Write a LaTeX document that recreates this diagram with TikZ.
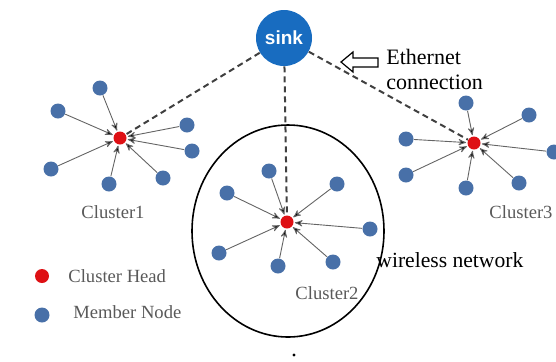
\documentclass[tikz,border=0pt]{standalone}
\usepackage{fontspec}
\setmainfont{Liberation Serif}
\newfontfamily\sinkfont{Liberation Sans}
\usetikzlibrary{arrows,positioning}
\definecolor{memberblue}{RGB}{72,112,168}
\definecolor{headred}{RGB}{222,16,20}
\definecolor{sinkblue}{RGB}{24,108,192}
\definecolor{linkgray}{RGB}{100,100,100}

\begin{document}
\begin{tikzpicture}[x=0.5pt,y=-0.5pt,>=stealth',
            member/.style={circle,fill=memberblue,inner sep=0pt,minimum size=7.5pt},
            head/.style={circle,fill=headred,inner sep=0pt,minimum size=6.5pt},
            link/.style={->,draw=linkgray,line width=0.45pt,shorten >=0.5pt},
            eth/.style={draw=black!75,line width=1pt,dash pattern=on 3pt off 2pt},
            lbl/.style={text=black!65,font=\fontsize{9.3pt}{11}\selectfont}]
            \useasboundingbox (0,0) rectangle (556,361);
            \node[circle,fill=sinkblue,text=white,minimum size=28pt,inner sep=0pt,
                  font=\sinkfont\bfseries\fontsize{9.5pt}{11}\selectfont] (sink) at (284,38) {sink};
            % cluster 1
            \node[head]   (h1)  at (120,138) {};
            \node[member] (m11) at (100,88)  {};
            \node[member] (m12) at (58,111)  {};
            \node[member] (m13) at (187,125) {};
            \node[member] (m14) at (192,151) {};
            \node[member] (m15) at (163,178) {};
            \node[member] (m16) at (109,184) {};
            \node[member] (m17) at (51,169)  {};
            \node[lbl]    (c1)  at (113,212) {Cluster1};
            % cluster 2
            \node[head]   (h2)  at (287,222) {};
            \node[member] (m21) at (269,171) {};
            \node[member] (m22) at (227,193) {};
            \node[member] (m23) at (337,184) {};
            \node[member] (m24) at (370,229) {};
            \node[member] (m25) at (333,262) {};
            \node[member] (m26) at (278,266) {};
            \node[member] (m27) at (219,253) {};
            \node[lbl]    (c2)  at (327,293) {Cluster2};
            % cluster 3
            \node[head]   (h3)  at (474,143) {};
            \node[member] (m31) at (466,103) {};
            \node[member] (m32) at (529,115) {};
            \node[member] (m33) at (406,139) {};
            \node[member] (m34) at (554,152) {};
            \node[member] (m35) at (519,183) {};
            \node[member] (m36) at (466,188) {};
            \node[member] (m37) at (406,175) {};
            \node[lbl]    (c3)  at (521,212) {Cluster3};
            \path[link] (m11) edge (h1) (m12) edge (h1) (m13) edge (h1) (m14) edge (h1)
                        (m15) edge (h1) (m16) edge (h1) (m17) edge (h1);
            \path[link] (m21) edge (h2) (m22) edge (h2) (m23) edge (h2) (m24) edge (h2)
                        (m25) edge (h2) (m26) edge (h2) (m27) edge (h2);
            \path[link] (m31) edge (h3) (m32) edge (h3) (m33) edge (h3) (m34) edge (h3)
                        (m35) edge (h3) (m36) edge (h3) (m37) edge (h3);
            \draw[eth] (sink) -- (h1);
            \draw[eth] (sink) -- (h2);
            \draw[eth] (sink) -- (h3);
            % wireless range
            \draw[line width=0.8pt] (288,231) circle [x radius=96, y radius=106];
            \fill (294,355) circle [radius=1.6];
            % ethernet pointer
            \draw[line width=0.6pt] (341,62) -- (353,52) -- (353,58) -- (378,58) -- (378,67)
                  -- (353,67) -- (353,72) -- cycle;
            \node[anchor=west,align=left,inner sep=0pt,
                  font=\fontsize{11pt}{12.5pt}\selectfont] (ethtxt) at (386,69) {Ethernet\\connection};
            \node[anchor=west,inner sep=0pt,font=\fontsize{10.8pt}{12}\selectfont] (wl) at (376,260) {wireless network};
            % legend
            \node[head,minimum size=7pt] (lh) at (42,276) {};
            \node[member] (lm) at (42,315) {};
            \node[lbl,anchor=west,inner sep=0pt] (lht) at (68,276) {Cluster Head};
            \node[lbl,anchor=west,inner sep=0pt] (lmt) at (73,312) {Member Node};
        \end{tikzpicture}
\end{document}
